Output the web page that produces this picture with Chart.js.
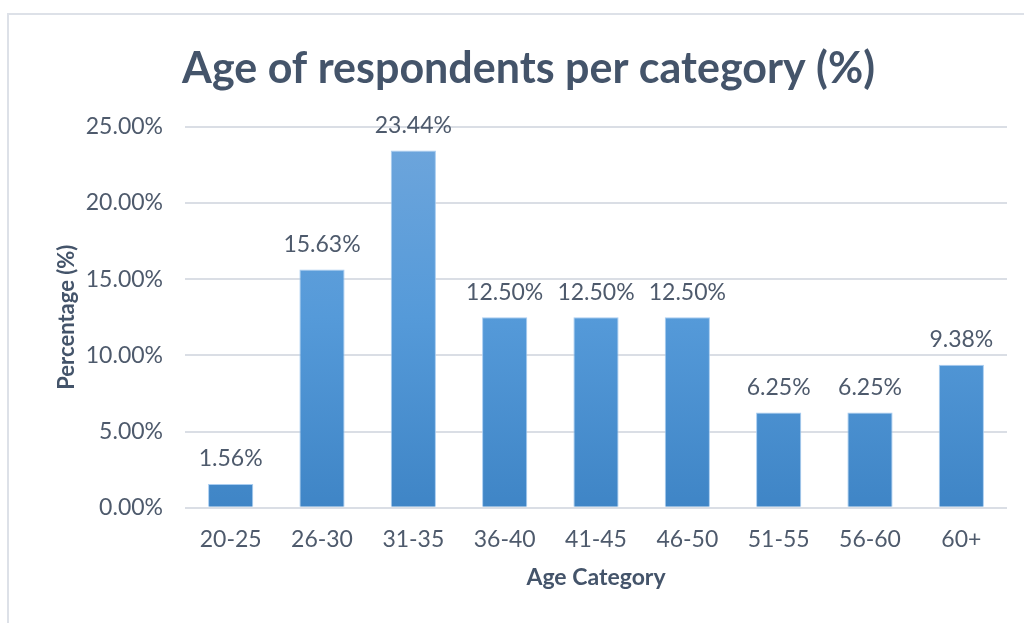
<!DOCTYPE html>
<html>
<head>
<meta charset="utf-8">
<script src="https://cdnjs.cloudflare.com/ajax/libs/Chart.js/4.4.1/chart.umd.min.js"></script>
<style>
  html, body { margin: 0; padding: 0; background: #fff; }
  #wrap { position: relative; width: 1024px; height: 623px; overflow: hidden; }
  #frame {
    position: absolute; left: 7px; top: 13px; width: 1040px; height: 640px;
    border: 2px solid #dde1e8; box-sizing: border-box;
  }
  canvas { position: absolute; left: 0; top: 0; }
</style>
</head>
<body>
<div id="wrap">
  <div id="frame"></div>
  <canvas id="chart" width="1024" height="623"></canvas>
</div>
<script>
// age bands and share of respondents (%)
const categories = ['20-25', '26-30', '31-35', '36-40', '41-45', '46-50', '51-55', '56-60', '60+'];
const shares = [1.56, 15.63, 23.44, 12.50, 12.50, 12.50, 6.25, 6.25, 9.38];
const yTicks = [0, 5, 10, 15, 20, 25];

const TEXT = '#4e5a6c';
const DARK = '#44546a';
const FONT = 'Lato, "Open Sans", sans-serif';

// vertical blue gradient like the office "shaded" bar fill
function barFill(ctx) {
  const area = ctx.chart.chartArea;
  if (!area) return '#5b9bd5';
  const g = ctx.chart.ctx.createLinearGradient(0, area.top, 0, area.bottom);
  g.addColorStop(0, '#6fa6dc');
  g.addColorStop(0.5, '#559ad9');
  g.addColorStop(1, '#3f85c6');
  return g;
}

// value labels above each bar
const valueLabels = {
  id: 'valueLabels',
  afterDatasetsDraw(chart) {
    const { ctx } = chart;
    const meta = chart.getDatasetMeta(0);
    ctx.save();
    ctx.font = '23px ' + FONT;
    ctx.fillStyle = TEXT;
    ctx.textAlign = 'center';
    ctx.textBaseline = 'middle';
    meta.data.forEach((bar, i) => {
      ctx.fillText(shares[i].toFixed(2) + '%', bar.x, bar.y - 25);
    });
    ctx.restore();
  },
};

new Chart(document.getElementById('chart'), {
  type: 'bar',
  data: {
    labels: categories,
    datasets: [{
      data: shares,
      backgroundColor: barFill,
      borderColor: 'rgba(160,200,240,0.9)',
      borderWidth: 1,
      barPercentage: 0.495,
      categoryPercentage: 1,
    }],
  },
  options: {
    responsive: false,
    animation: false,
    layout: { padding: { left: 50, right: 17, top: 43, bottom: 28 } },
    plugins: {
      legend: { display: false },
      tooltip: { enabled: false },
      title: {
        display: true,
        text: 'Age of respondents per category (%)',
        color: DARK,
        font: { family: FONT, size: 43, weight: 'bold' },
        padding: { top: 0, bottom: 32 },
      },
    },
    scales: {
      x: {
        grid: { display: false },
        border: { display: false },
        ticks: { color: TEXT, font: { family: FONT, size: 23 }, padding: 10 },
        title: {
          display: true,
          text: 'Age Category',
          color: DARK,
          font: { family: FONT, size: 23, weight: 'bold' },
          padding: { top: 0 },
        },
      },
      y: {
        min: 0,
        max: 25,
        afterBuildTicks(axis) { axis.ticks = yTicks.map(v => ({ value: v })); },
        afterFit(axis) { axis.width = 135; },
        grid: { color: '#dadee5', lineWidth: 2, drawTicks: false },
        border: { display: false },
        ticks: {
          color: TEXT,
          font: { family: FONT, size: 23 },
          padding: 22,
          callback: v => v.toFixed(2) + '%',
        },
        title: {
          display: true,
          text: 'Percentage (%)',
          color: DARK,
          font: { family: FONT, size: 22, weight: 'bold' },
          padding: { bottom: 0 },
        },
      },
    },
  },
  plugins: [valueLabels],
});
</script>
</body>
</html>
